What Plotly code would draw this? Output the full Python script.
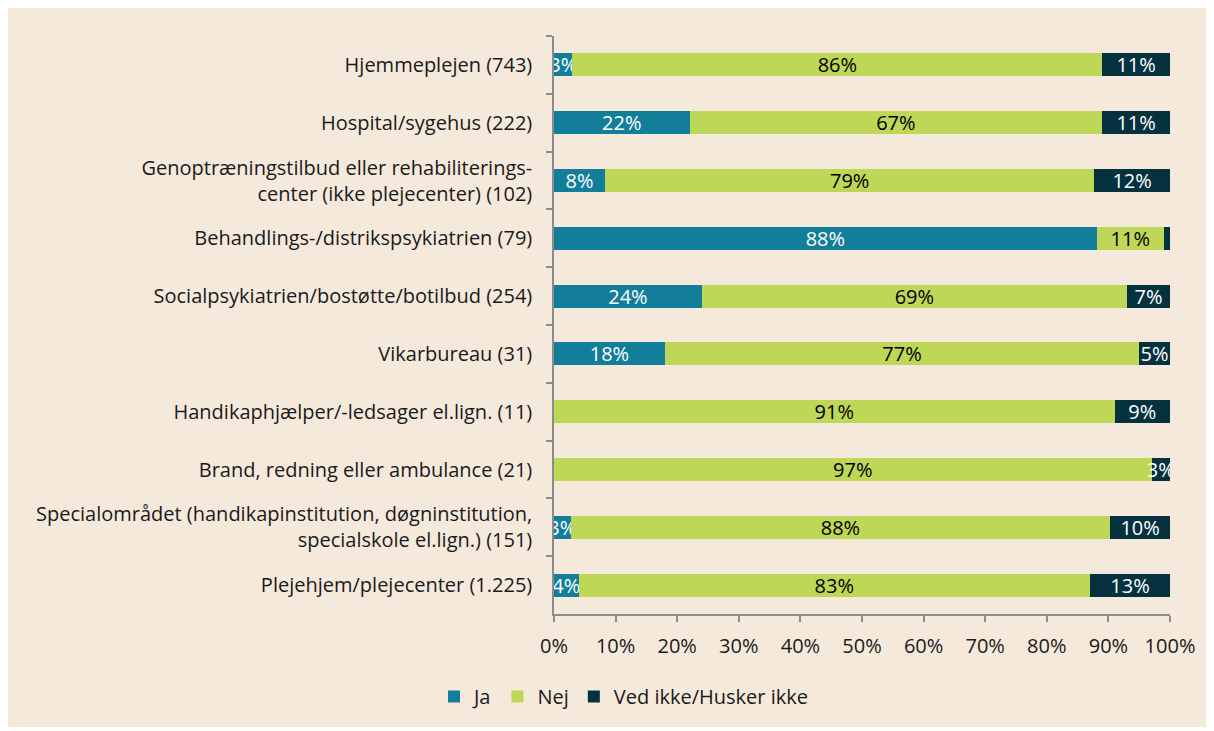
import plotly.graph_objects as go

categories = [
    "Hjemmeplejen (743)",
    "Hospital/sygehus (222)",
    "Genoptræningstilbud eller rehabiliterings-<br>center (ikke plejecenter) (102)",
    "Behandlings-/distrikspsykiatrien (79)",
    "Socialpsykiatrien/bostøtte/botilbud (254)",
    "Vikarbureau (31)",
    "Handikaphjælper/-ledsager el.lign. (11)",
    "Brand, redning eller ambulance (21)",
    "Specialområdet (handikapinstitution, døgninstitution,<br>specialskole el.lign.) (151)",
    "Plejehjem/plejecenter (1.225)",
]
ja = [3, 22, 8.3, 88.1, 24, 18, 0, 0, 2.7, 4]
nej = [86, 67, 79.4, 10.9, 69, 77, 91, 97, 87.6, 83]
ved_ikke = [11, 11, 12.3, 1.0, 7, 5, 9, 3, 9.7, 13]
series_names = ["Ja", "Nej", "Ved ikke/Husker ikke"]
x_ticks = [0, 10, 20, 30, 40, 50, 60, 70, 80, 90, 100]

colors = ["#137E9A", "#BED756", "#06323F"]
text_colors = ["white", "black", "white"]
BG = "#F5E9DC"
FONT = "Open Sans, sans-serif"
FS = 20

fig = go.Figure()
for name, vals, col, tcol in zip(series_names, [ja, nej, ved_ikke], colors, text_colors):
    fig.add_trace(go.Bar(
        y=categories, x=vals, name=name, orientation="h",
        marker=dict(color=col, line=dict(width=0)),
        text=[f"{round(v)}%" if v >= 2 else "" for v in vals],
        textposition="inside", insidetextanchor="middle",
        insidetextfont=dict(color=tcol, size=FS, family=FONT),
        textangle=0, hoverinfo="skip",
    ))

# page body has an 8px margin; reference coordinates are offset by it
OFF = 8
W, H = 1212 - OFF, 727 - OFF
L, R, T, B = 554 - OFF, 1212 - 1170, 36 - OFF, 727 - 614
pw, ph = W - L - R, H - T - B

def px_x(p):
    return (p - OFF - L) / pw

def px_y(p):
    return (H - B - (p - OFF)) / ph

fig.update_layout(
    width=W, height=H,
    margin=dict(l=L, r=R, t=T, b=B, autoexpand=False),
    barmode="stack", bargap=0.6,
    paper_bgcolor=BG, plot_bgcolor=BG,
    font=dict(family=FONT, size=FS, color="#1a1a1a"),
    uniformtext=dict(minsize=FS, mode="show"),
    showlegend=True,
    legend=dict(orientation="h", x=px_x(434), y=px_y(677), xanchor="left", yanchor="top",
                font=dict(size=FS, family=FONT, color="#1a1a1a"),
                bgcolor="rgba(0,0,0,0)", itemwidth=30, traceorder="normal"),
)
fig.update_xaxes(
    range=[0, 100], tickvals=x_ticks, ticktext=[f"{v}%" for v in x_ticks],
    showgrid=False, zeroline=False, showline=True, linecolor="#8c8c8c", linewidth=1.5,
    ticks="outside", ticklen=6, tickcolor="#8c8c8c", tickwidth=1.5,
    ticklabelstandoff=7, tickfont=dict(size=FS, family=FONT, color="#1a1a1a"),
    fixedrange=True,
)
fig.update_yaxes(
    categoryorder="array", categoryarray=categories, autorange="reversed",
    showgrid=False, zeroline=False, showline=True, linecolor="#8c8c8c", linewidth=1.5,
    ticks="outside", ticklen=6, tickcolor="#8c8c8c", tickwidth=1.5, tickson="boundaries",
    ticklabelstandoff=16, tickfont=dict(size=FS, family=FONT, color="#1a1a1a"),
    fixedrange=True,
)

fig.write_html("out.html")
